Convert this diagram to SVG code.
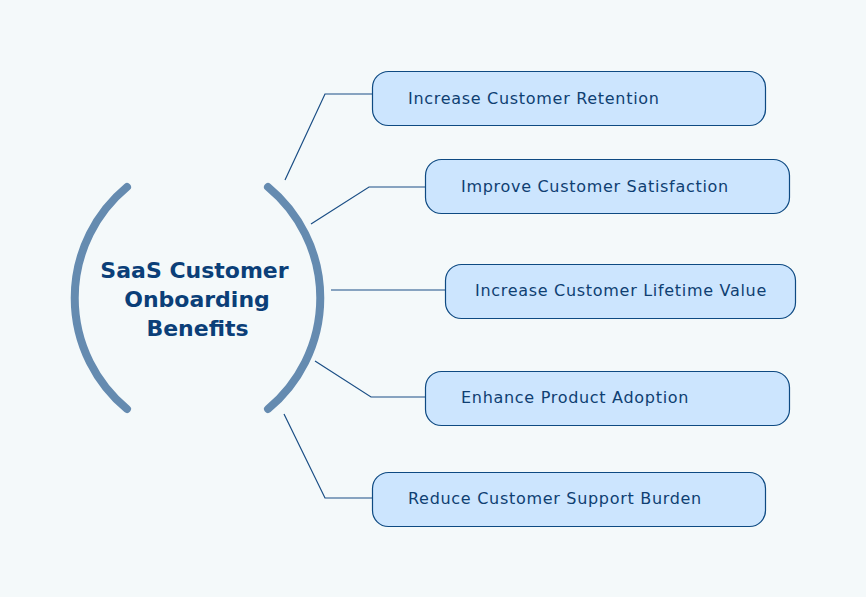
<svg xmlns="http://www.w3.org/2000/svg" width="866" height="597" viewBox="0 0 866 597">
<style>
.box{fill:#cce5fe;stroke:#0e4a82;stroke-width:1.2}
.lbl{font-family:"DejaVu Sans","Open Sans",sans-serif;font-size:16px;letter-spacing:0.7px;fill:#0f3f72}
.title{font-family:"DejaVu Sans","Open Sans",sans-serif;font-size:22px;font-weight:bold;fill:#0b3f78;text-anchor:middle}
.con{fill:none;stroke:#1a4e85;stroke-width:1.2}
.br{fill:none;stroke:#658bb0;stroke-width:8;stroke-linecap:round}
</style>
<rect width="866" height="597" fill="#f4f9fa"/>
<g id="connectors">
<polyline class="con" points="285,180 325,94 372,94"/>
<polyline class="con" points="311,224 369,187 425,187"/>
<polyline class="con" points="331,290 445,290"/>
<polyline class="con" points="315,361 371,397 425,397"/>
<polyline class="con" points="284,414 325,498 372,498"/>
</g>
<g id="center">
<path class="br" d="M127,187 A144,144 0 0 0 127,409"/>
<path class="br" d="M268,187 A144,144 0 0 1 268,409"/>
<text class="title" x="194.5" y="278">SaaS Customer</text>
<text class="title" x="197" y="307">Onboarding</text>
<text class="title" x="197.5" y="336">Benefits</text>
</g>
<g id="n1"><rect class="box" x="372.5" y="71.5" width="393" height="54" rx="16"/><text class="lbl" x="408" y="104">Increase Customer Retention</text></g>
<g id="n2"><rect class="box" x="425.5" y="159.5" width="364" height="54" rx="16"/><text class="lbl" x="461" y="192">Improve Customer Satisfaction</text></g>
<g id="n3"><rect class="box" x="445.5" y="264.5" width="350" height="54" rx="16"/><text class="lbl" x="475" y="296">Increase Customer Lifetime Value</text></g>
<g id="n4"><rect class="box" x="425.5" y="371.5" width="364" height="54" rx="16"/><text class="lbl" x="461" y="403">Enhance Product Adoption</text></g>
<g id="n5"><rect class="box" x="372.5" y="472.5" width="393" height="54" rx="16"/><text class="lbl" x="408" y="504">Reduce Customer Support Burden</text></g>
</svg>
